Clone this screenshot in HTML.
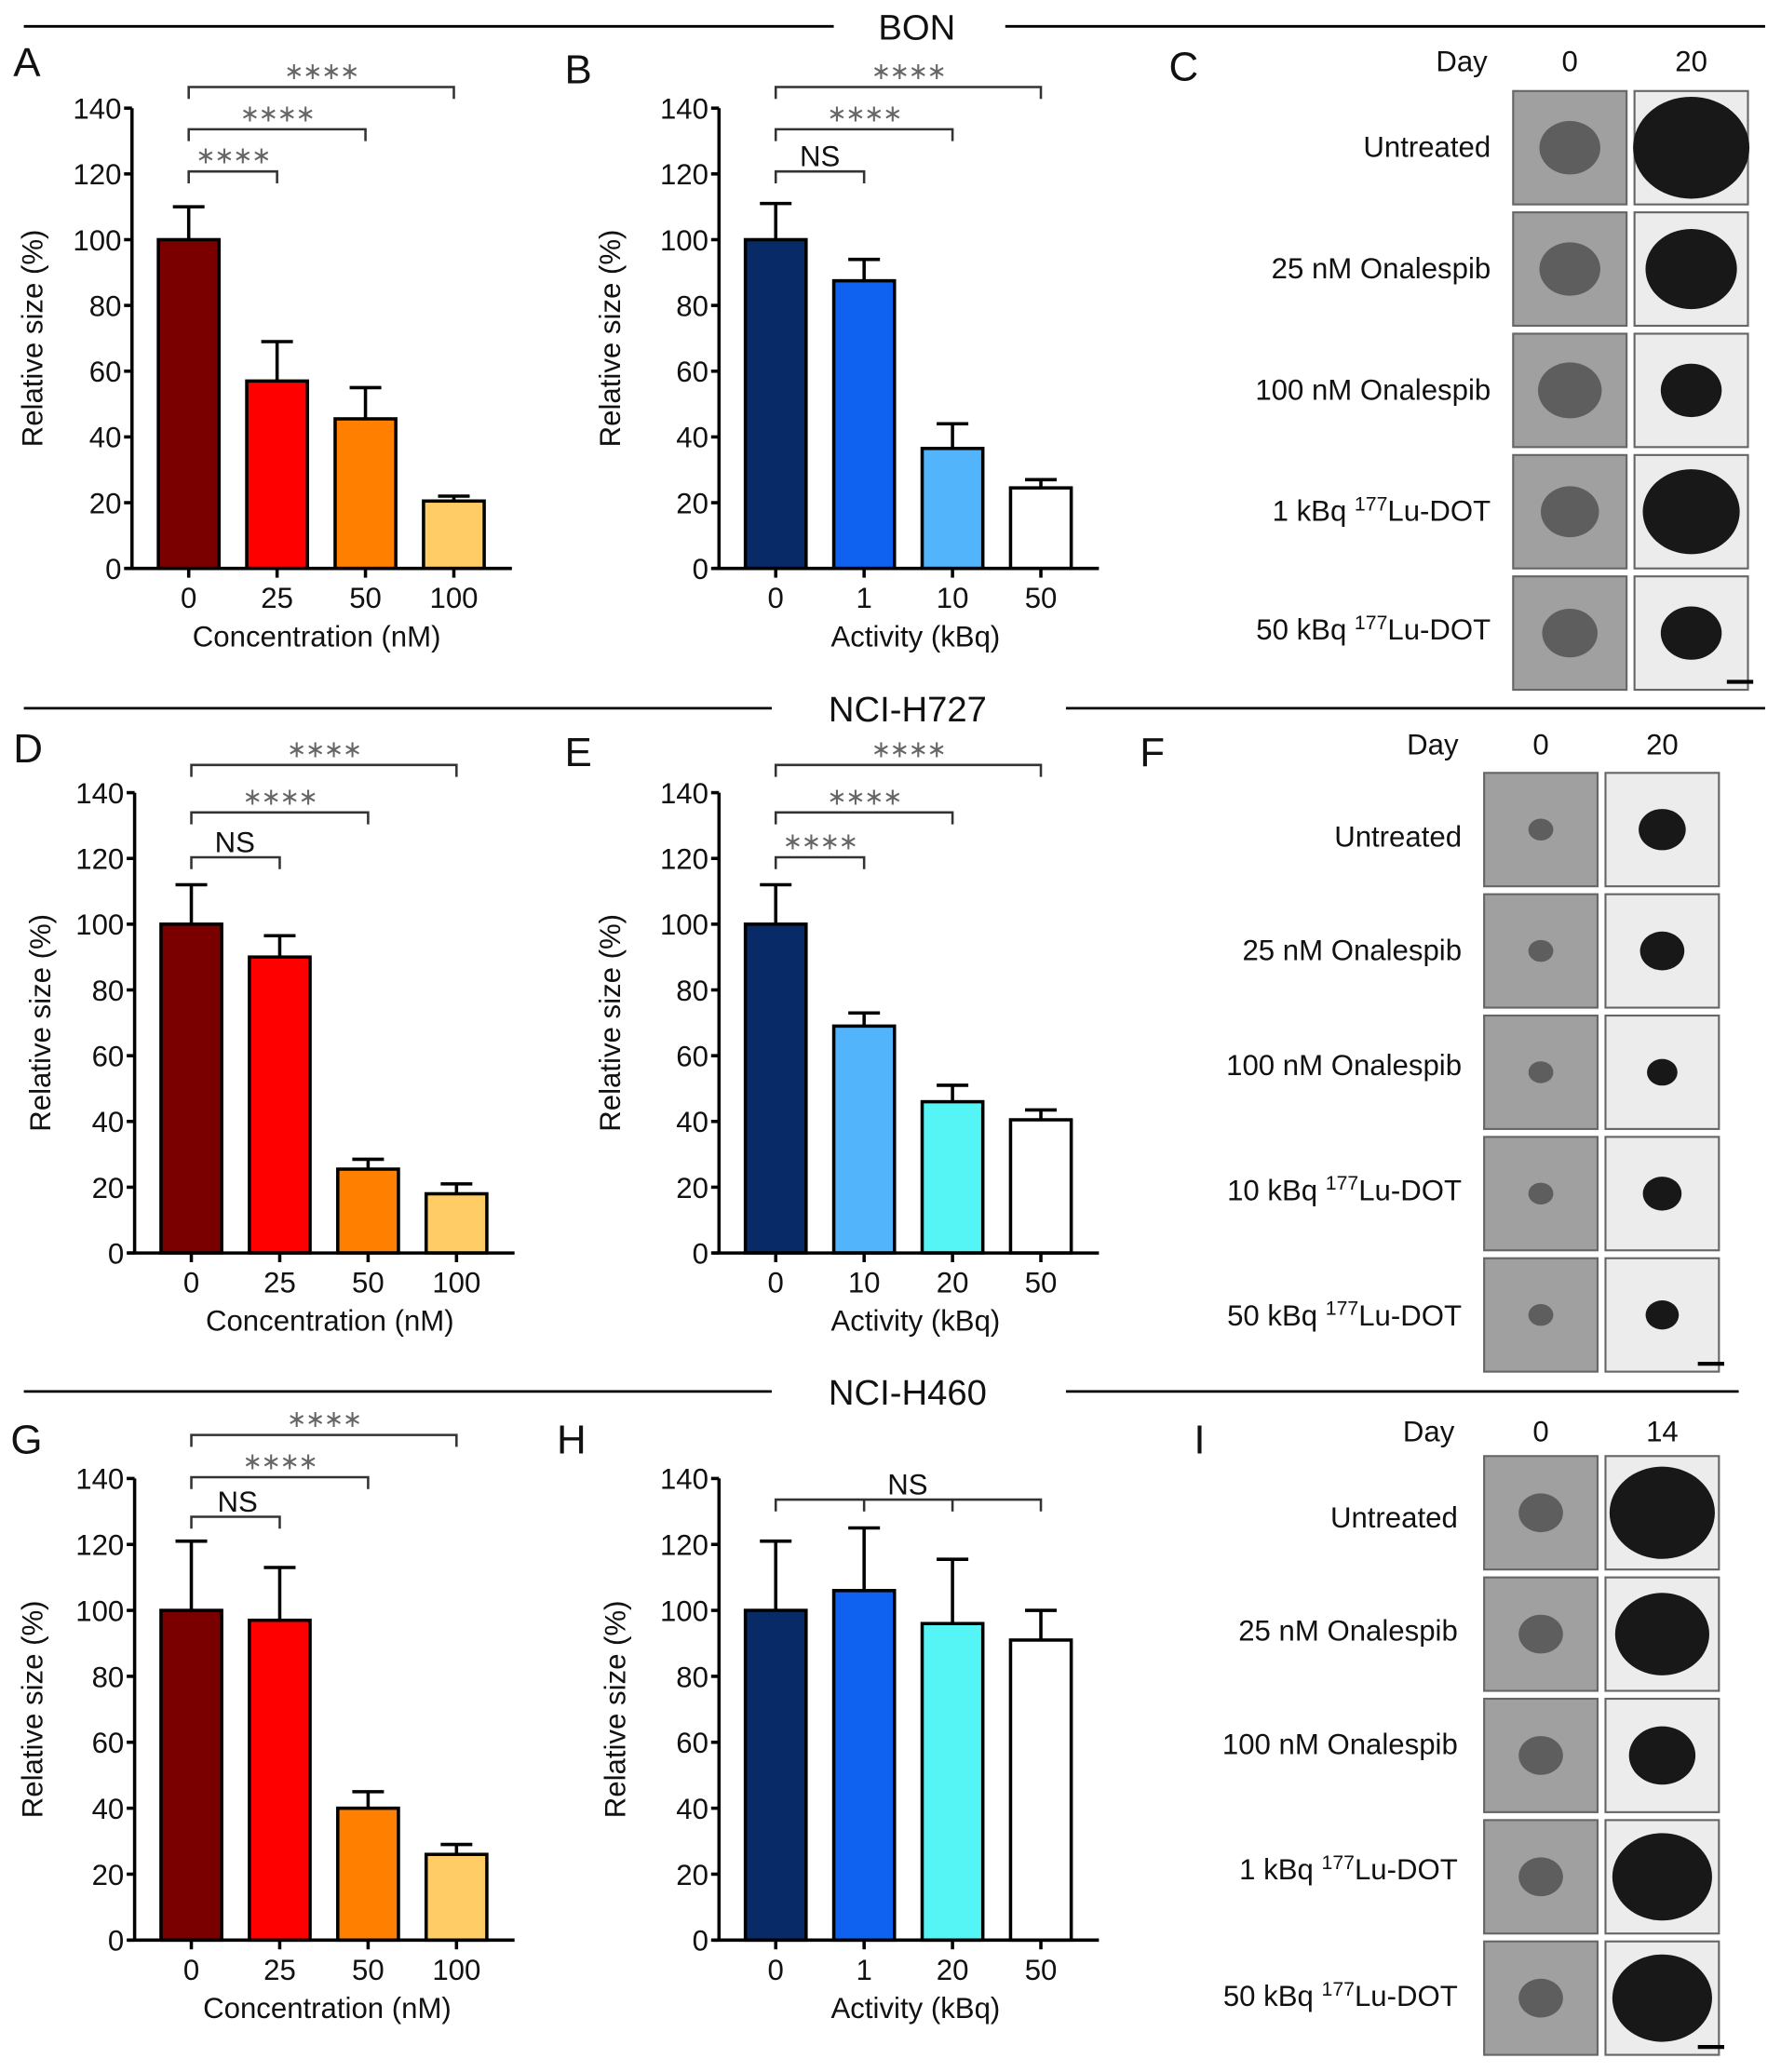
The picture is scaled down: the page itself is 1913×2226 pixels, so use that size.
<!DOCTYPE html>
<html><head><meta charset="utf-8"><style>
html,body{margin:0;padding:0;background:#fff;}
svg{display:block;font-family:"Liberation Sans",Arial,sans-serif;}
</style></head><body>
<svg id="fig" width="1913" height="2226" viewBox="0 0 1350 1571" xmlns="http://www.w3.org/2000/svg"></svg>
<script>
// ---- data ----
const catsConc = ["0","25","50","100"];
const catsB = ["0","1","10","50"];
const catsE = ["0","10","20","50"];
const catsH = ["0","1","20","50"];
const yTicks = [0,20,40,60,80,100,120,140];
const valsA = [100,57,45.5,20.5];
const errA = [110,69,55,22];
const valsB = [100,87.5,36.5,24.5];
const errB = [111,94,44,27];
const valsD = [100,90,25.5,18];
const errD = [112,96.5,28.5,21];
const valsE = [100,69,46,40.5];
const errE = [112,73,51,43.5];
const valsG = [100,97,40,26];
const errG = [121,113,45,29];
const valsH = [100,106,96,91];
const errH = [121,125,115.5,100];
const colsRed = ["#7a0000","#ff0000","#ff8000","#ffcc66"];
const colsB = ["#082a66","#0f62f0","#52b4fa","#ffffff"];
const colsE = ["#082a66","#52b4fa","#55f5f5","#ffffff"];
const colsH = ["#082a66","#0f62f0","#55f5f5","#ffffff"];

const NS="http://www.w3.org/2000/svg";
const svg=document.getElementById('fig');
function mk(tag,attrs,parent,text){const e=document.createElementNS(NS,tag);for(const k in attrs)e.setAttribute(k,attrs[k]);if(text!==undefined)e.textContent=text;(parent||svg).appendChild(e);return e;}

function header(y,l1,name,cx,l2s,l2e,label){
  const g=mk('g',{});
  
  
  mk('line',{x1:18,y1:y,x2:l1,y2:y,stroke:'#000','stroke-width':2},g);
  mk('line',{x1:l2s,y1:y,x2:l2e,y2:y,stroke:'#000','stroke-width':2},g);
  mk('text',{x:cx,y:y+10,'font-size':27,'text-anchor':'middle',fill:'#111'},g,label);
}
header(20,632,'bon-header',695,762,1338,'BON');
header(537,585,'nci-h727-header',688,808,1338,'NCI-H727');
header(1055,585,'nci-h460-header',688,808,1318,'NCI-H460');

function letter(t,x,y){const e=mk('text',{x:x,y:y,'font-size':31,fill:'#111'},svg,t);
  
  }

function chart(o){
  const g=mk('g',{});
  
  
  const ax=o.ax, top=o.top, bot=o.bot;
  const ys=v=>bot-(v/140)*(bot-top);
  const xs=i=>ax+43+i*67;
  yTicks.forEach(t=>{
    mk('line',{x1:ax-6,y1:ys(t),x2:ax,y2:ys(t),stroke:'#000','stroke-width':2.5},g);
    const tl=mk('text',{x:ax-8,y:ys(t)+8,'font-size':22,'text-anchor':'end',fill:'#111'},g,String(t));
    
    
  });
  o.vals.forEach((v,i)=>{
    const x=xs(i);
    mk('line',{x1:x,y1:ys(v),x2:x,y2:ys(o.err[i]),stroke:'#000','stroke-width':2.5},g);
    mk('line',{x1:x-12,y1:ys(o.err[i]),x2:x+12,y2:ys(o.err[i]),stroke:'#000','stroke-width':2.5},g);
    const b=mk('rect',{x:x-23,y:ys(v),width:46,height:bot-ys(v),fill:o.cols[i],stroke:'#000','stroke-width':2.5},g);
    
    
    mk('line',{x1:x,y1:bot,x2:x,y2:bot+7,stroke:'#000','stroke-width':2.5},g);
    const xl=mk('text',{x:x,y:bot+30,'font-size':22,'text-anchor':'middle',fill:'#111'},g,o.cats[i]);
    
    
  });
  mk('line',{x1:ax,y1:top,x2:ax,y2:bot+1,stroke:'#000','stroke-width':2.5},g);
  mk('line',{x1:ax-5,y1:bot,x2:ax+288,y2:bot,stroke:'#000','stroke-width':2.5},g);
  const xt=mk('text',{x:o.xtx,y:bot+59,'font-size':22,'text-anchor':'middle',fill:'#111'},g,o.xtitle);
  
  
  const yty=(top+bot)/2;
  const yt=mk('text',{x:o.ytx,y:yty,'font-size':22,'text-anchor':'middle',fill:'#111',transform:`rotate(-90 ${o.ytx} ${yty})`},g,'Relative size (%)');
  
  
  o.br.forEach(b=>{
    const bg=mk('g',{},g);
    
    
    const x1=xs(0), x2=xs(b.to);
    mk('polyline',{points:`${x1},${b.y+9} ${x1},${b.y} ${x2},${b.y} ${x2},${b.y+9}`,fill:'none',stroke:'#333','stroke-width':1.8},bg);
    (b.mid||[]).forEach(m=>mk('line',{x1:xs(m),y1:b.y,x2:xs(m),y2:b.y+9,stroke:'#333','stroke-width':1.8},bg));
    const isNS=b.t==='NS';
    const cx=b.cx!==undefined?b.cx:(x1+x2)/2;
    mk('text',{x:cx,y:isNS?b.y-4:b.y-6,'font-size':isNS?22:18,'text-anchor':'middle',fill:isNS?'#111':'#666','letter-spacing':isNS?0:-1},bg,isNS?'NS':'∗∗∗∗');
  });
}

letter('A',10,58);
chart({id:'a',ax:100,top:82,bot:431,vals:valsA,err:errA,cols:colsRed,cats:catsConc,xtitle:'Concentration (nM)',xtx:240,ytx:32,
  br:[{y:66,to:3},{y:98,to:2},{y:130,to:1}]});
letter('B',428,63);
chart({id:'b',ax:545,top:82,bot:431,vals:valsB,err:errB,cols:colsB,cats:catsB,xtitle:'Activity (kBq)',xtx:694,ytx:470,
  br:[{y:66,to:3},{y:98,to:2},{y:130,to:1,t:'NS'}]});
letter('D',10,578);
chart({id:'d',ax:102,top:601,bot:950,vals:valsD,err:errD,cols:colsRed,cats:catsConc,xtitle:'Concentration (nM)',xtx:250,ytx:38,
  br:[{y:580,to:3},{y:616,to:2},{y:650,to:1,t:'NS',cx:178}]});
letter('E',428,581);
chart({id:'e',ax:545,top:601,bot:950,vals:valsE,err:errE,cols:colsE,cats:catsE,xtitle:'Activity (kBq)',xtx:694,ytx:470,
  br:[{y:580,to:3},{y:616,to:2},{y:650,to:1}]});
letter('G',8,1102);
chart({id:'g',ax:102,top:1121,bot:1471,vals:valsG,err:errG,cols:colsRed,cats:catsConc,xtitle:'Concentration (nM)',xtx:248,ytx:32,
  br:[{y:1088,to:3},{y:1120,to:2},{y:1150,to:1,t:'NS',cx:180}]});
letter('H',422,1102);
chart({id:'h',ax:545,top:1121,bot:1471,vals:valsH,err:errH,cols:colsH,cats:catsH,xtitle:'Activity (kBq)',xtx:694,ytx:474,
  br:[{y:1137,to:3,mid:[1,2],t:'NS',cx:688}]});

const labelsC=["Untreated","25 nM Onalespib","100 nM Onalespib","1 kBq |177|Lu-DOT","50 kBq |177|Lu-DOT"];
const labelsF=["Untreated","25 nM Onalespib","100 nM Onalespib","10 kBq |177|Lu-DOT","50 kBq |177|Lu-DOT"];
const labelsI=["Untreated","25 nM Onalespib","100 nM Onalespib","1 kBq |177|Lu-DOT","50 kBq |177|Lu-DOT"];
const r0C=[22,22,23,21,20], r1C=[42,33,22,35,22];
const r0F=[9,9,9,9,9], r1F=[17,16,11,14,12];
const r0I=[16,16,16,16,16], r1I=[38,34,24,36,36];

function imgPanel(o){
  const g=mk('g',{});
  
  
  mk('text',{x:o.dayx,y:o.dayy,'font-size':22,'text-anchor':'middle',fill:'#111'},g,'Day');
  mk('text',{x:o.c1+43,y:o.dayy,'font-size':22,'text-anchor':'middle',fill:'#111'},g,'0');
  mk('text',{x:o.c1+135,y:o.dayy,'font-size':22,'text-anchor':'middle',fill:'#111'},g,o.d2);
  o.labels.forEach((l,i)=>{
    const y=o.r+i*o.step;
    const t=mk('text',{x:o.lx,y:y+o.lo[i],'font-size':22,'text-anchor':'end',fill:'#111'},g);
    
    
    const p=l.split('|');
    if(p.length===1){t.textContent=l;}else{
      mk('tspan',{},t,p[0]);mk('tspan',{dy:-8,'font-size':15},t,p[1]);mk('tspan',{dy:8},t,p[2]);
    }
    [[o.c1,'#a0a0a0',o.r0[i],'#5e5e5e'],[o.c1+92,'#ececec',o.r1[i],'#181818']].forEach((c,j)=>{
      const im=mk('g',{},g);
      
      
      mk('rect',{x:c[0],y:y,width:86,height:86,fill:c[1],stroke:'#666','stroke-width':1.5},im);
      mk('ellipse',{cx:c[0]+43,cy:y+43,rx:c[2]*1.05,ry:c[2]*0.92,fill:c[3]},im);
    });
  });
  const ly=o.r+4*o.step+80;
  mk('line',{x1:o.c1+162,y1:ly,x2:o.c1+182,y2:ly,stroke:'#000','stroke-width':3},g);
}
letter('C',886,61);
imgPanel({id:'c',c1:1147,r:69,step:92,dayx:1108,dayy:54,d2:'20',lx:1130,labels:labelsC,r0:r0C,r1:r1C,lo:[50,50,50,50,48]});
letter('F',864,581);
imgPanel({id:'f',c1:1125,r:586,step:92,dayx:1086,dayy:572,d2:'20',lx:1108,labels:labelsF,r0:r0F,r1:r1F,lo:[56,50,45,48,51]});
letter('I',905,1102);
imgPanel({id:'i',c1:1125,r:1104,step:92,dayx:1083,dayy:1093,d2:'14',lx:1105,labels:labelsI,r0:r0I,r1:r1I,lo:[54,48,42,45,49]});
</script>
</body></html>
